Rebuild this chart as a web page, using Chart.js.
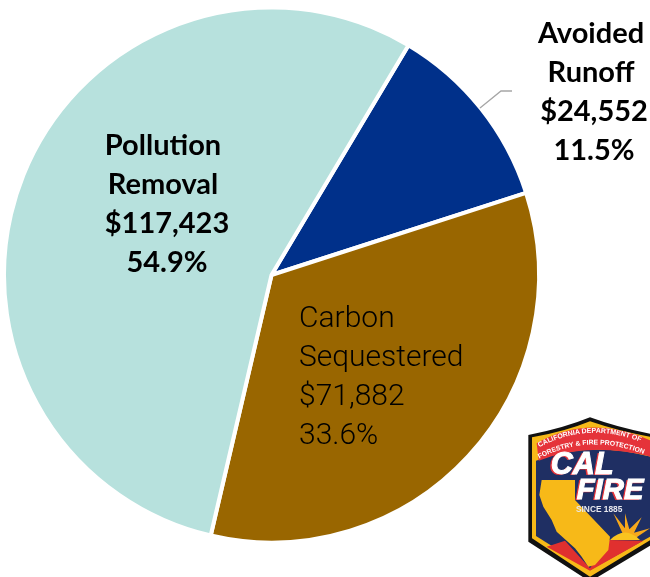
<!DOCTYPE html>
<html lang="en">
<head>
<meta charset="UTF-8" />
<title>Tree benefits</title>
<style>
    html, body { margin: 0; padding: 0; background: #fff; overflow: hidden; }
    #wrap { position: relative; width: 650px; height: 577px; }
    #logo { position: absolute; left: 510px; top: 400px; }
</style>
</head>
<body>
<div id="wrap">
    <canvas id="pie" width="650" height="577"></canvas>
    <svg id="logo" width="140" height="177" viewBox="0 0 420 531" xmlns="http://www.w3.org/2000/svg">
        <defs>
            <path id="arc1" d="M88,142 Q240,60 408,132" />
            <path id="arc2" d="M88,176 Q240,96 410,166" />
            <clipPath id="inner"><path d="M66,112 Q165,95 240,64 Q330,95 430,112 L430,415 L240,530 L66,415 Z" /></clipPath>
        </defs>
        <path d="M55,105 Q160,85 240,52 Q330,85 440,105 L440,425 L240,545 L55,425 Z" fill="#111" />
        <path d="M66,112 Q165,95 240,64 Q330,95 430,112 L430,415 L240,530 L66,415 Z" fill="#f7b918" />
        <g clip-path="url(#inner)">
            <path d="M78,182 Q240,120 430,172 L430,405 L240,510 L78,408 Z" fill="#1f2f63" />
            <path d="M80,130 Q240,38 430,125 L430,172 Q240,122 86,182 Z" fill="#e5333a" />
            <path d="M110,440 L165,422 L240,505 L295,420 L400,422 L240,512 Z" fill="#e0302f" />
            <path d="M340,405 L310,340 L345,385 L345,340 L358,388 L395,352 L372,398 L420,385 L380,412 Z" fill="#f7a81b" />
            <path d="M300,420 Q345,375 390,420 Z" fill="#f9c31f" />
            <path d="M95,240 L195,240 L195,300 L300,410 L295,450 L255,495 L235,500 L215,470 L195,445 L140,395 L125,360 L100,320 L88,285 Z" fill="#f7b918" />
        </g>
        <text font-family="Liberation Sans" font-weight="700" font-size="21" fill="#fff"><textPath href="#arc1">CALIFORNIA DEPARTMENT OF</textPath></text>
        <text font-family="Liberation Sans" font-weight="700" font-size="20.5" fill="#fff"><textPath href="#arc2">FORESTRY &amp; FIRE PROTECTION</textPath></text>
        <text x="116" y="226" font-family="Liberation Sans" font-weight="700" font-style="italic" font-size="92" fill="#e5333a">CAL</text>
        <text x="122" y="222" font-family="Liberation Sans" font-weight="700" font-style="italic" font-size="92" fill="#fff" stroke="#fff" stroke-width="3">CAL</text>
        <text x="194" y="300" font-family="Liberation Sans" font-weight="700" font-style="italic" font-size="88" fill="#e5333a">FIRE</text>
        <text x="200" y="296" font-family="Liberation Sans" font-weight="700" font-style="italic" font-size="88" fill="#fff" stroke="#fff" stroke-width="3">FIRE</text>
        <text x="198" y="337" font-family="Liberation Sans" font-weight="700" font-size="25" fill="#e8e8ee">SINCE 1885</text>
    </svg>
</div>
<script src="https://cdn.jsdelivr.net/npm/chart.js"></script>
<script>
    const categories = ['Avoided Runoff', 'Carbon Sequestered', 'Pollution Removal'];
    const dollars = [24552, 71882, 117423];
    const percents = ['11.5%', '33.6%', '54.9%'];
    const colors = ['#00308a', '#996600', '#b7e1dd'];

    // x, first baseline, offset of the two number lines, alignment, font per slice
    const boldFont = '700 29px Lato';
    const thinFont = '300 30px Roboto';
    const labelSpots = [
        { x: 591, y: 43, shift: 3, align: 'center', font: boldFont },
        { x: 299, y: 327, shift: 0, align: 'left', font: thinFont },
        { x: 163, y: 155, shift: 4, align: 'center', font: boldFont }
    ];
    const lineGap = 39;

    const sliceLabels = {
        id: 'sliceLabels',
        afterDraw(chart) {
            const ctx = chart.ctx;
            ctx.save();
            // leader line for the small slice
            ctx.strokeStyle = '#a6a6a6';
            ctx.lineWidth = 1.3;
            ctx.beginPath();
            ctx.moveTo(480, 108);
            ctx.lineTo(501, 91);
            ctx.lineTo(512, 91);
            ctx.stroke();

            ctx.fillStyle = '#000';
            ctx.textBaseline = 'alphabetic';
            categories.forEach((name, i) => {
                const spot = labelSpots[i];
                const words = name.split(' ');
                const lines = [words[0], words[1], '$' + dollars[i].toLocaleString('en-US'), percents[i]];
                ctx.font = spot.font;
                ctx.textAlign = spot.align;
                lines.forEach((line, n) => {
                    const x = n > 1 ? spot.x + spot.shift : spot.x;
                    ctx.fillText(line, x, spot.y + n * lineGap);
                });
            });
            ctx.restore();
        }
    };

    new Chart(document.getElementById('pie'), {
        type: 'pie',
        data: {
            labels: categories,
            datasets: [{
                data: dollars,
                backgroundColor: colors,
                borderColor: '#fff',
                borderWidth: 4
            }]
        },
        options: {
            responsive: false,
            animation: false,
            rotation: 30.8,
            layout: { padding: { left: 2, right: 109, top: 5, bottom: 32 } },
            plugins: { legend: { display: false }, tooltip: { enabled: false } }
        },
        plugins: [sliceLabels]
    });
</script>
</body>
</html>
